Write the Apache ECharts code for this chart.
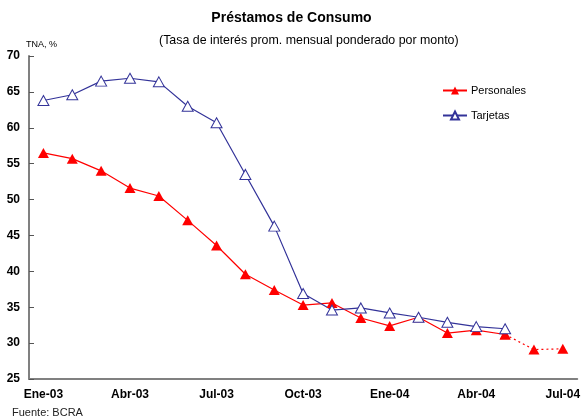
<!DOCTYPE html>
<html>
<head>
<meta charset="utf-8">
<script src="https://cdn.jsdelivr.net/npm/echarts@6/dist/echarts.min.js"></script>
<style>
  html, body { margin: 0; padding: 0; background: #fff; }
  #chart { width: 583px; height: 418px; }
</style>
</head>
<body>
<div id="chart"></div>
<script>
  // meses, Ene-03 .. Jul-04
  const months = ['Ene-03','Feb-03','Mar-03','Abr-03','May-03','Jun-03','Jul-03','Ago-03','Sep-03',
                  'Oct-03','Nov-03','Dic-03','Ene-04','Feb-04','Mar-04','Abr-04','May-04','Jun-04','Jul-04'];
  // TNA %
  const personales = [56.5, 55.7, 54.0, 51.6, 50.5, 47.1, 43.6, 39.6, 37.4, 35.3, 35.6, 33.5, 32.4, 33.6, 31.4, 31.8, 31.2, null, null];
  const personalesEstim = [null, null, null, null, null, null, null, null, null, null, null, null, null, null, null, null, 31.2, 29.1, 29.2];
  const tarjetas = [63.8, 64.6, 66.5, 66.9, 66.4, 63.0, 60.7, 53.5, 46.3, 36.9, 34.6, 34.9, 34.2, 33.6, 32.9, 32.3, 32.0, null, null];

  const font = 'Liberation Sans';
  const chart = echarts.init(document.getElementById('chart'));

  chart.setOption({
    animation: false,
    textStyle: { fontFamily: font },
    title: [
      { text: 'Préstamos de Consumo', left: 'center', top: 6,
        textStyle: { fontFamily: font, fontSize: 14, fontWeight: 'bold', color: '#000' } },
      { text: '(Tasa de interés prom. mensual ponderado por monto)', left: 154, top: 30,
        textStyle: { fontFamily: font, fontSize: 12.4, fontWeight: 'normal', color: '#000' } },
      { text: 'TNA, %', left: 21, top: 35,
        textStyle: { fontFamily: font, fontSize: 9, fontWeight: 'normal', color: '#000' } },
      { text: 'Fuente: BCRA', left: 7, top: 402,
        textStyle: { fontFamily: font, fontSize: 11, fontWeight: 'normal', color: '#222' } }
    ],
    legend: {
      orient: 'vertical',
      left: 437, top: 80,
      itemWidth: 24, itemHeight: 10, itemGap: 14,
      data: ['Personales', 'Tarjetas'],
      textStyle: { fontFamily: font, fontSize: 11, color: '#000', padding: [0, 0, 0, -1] }
    },
    grid: { left: 29, right: 0, top: 56, bottom: 39 },
    xAxis: {
      type: 'category',
      data: months,
      boundaryGap: true,
      axisLine: { lineStyle: { color: '#808080', width: 2 } },
      axisTick: { inside: true, length: 5, interval: 2, lineStyle: { color: '#000' } },
      axisLabel: { interval: 2, margin: 10, fontFamily: font, fontSize: 12, fontWeight: 'bold', color: '#000',
        formatter: (v, i) => (i % 3 === 0 ? v : '') }
    },
    yAxis: {
      type: 'value',
      min: 25, max: 70, interval: 5,
      splitLine: { show: false },
      axisLine: { show: true, lineStyle: { color: '#808080', width: 2 } },
      axisTick: { show: true, inside: true, length: 5, lineStyle: { color: '#555' } },
      axisLabel: { margin: 9, fontFamily: font, fontSize: 12, fontWeight: 'bold', color: '#000' }
    },
    series: [
      {
        name: 'Personales', type: 'line', data: personales,
        symbol: 'triangle', symbolSize: [11, 10],
        lineStyle: { color: '#ff0000', width: 1.2 },
        itemStyle: { color: '#ff0000', borderWidth: 0 }
      },
      {
        name: 'PersonalesEstim', type: 'line', data: personalesEstim,
        symbol: 'triangle', symbolSize: [11, 10],
        lineStyle: { color: '#ff0000', width: 1.2, type: [2, 3] },
        itemStyle: { color: '#ff0000', borderWidth: 0 }
      },
      {
        name: 'Tarjetas', type: 'line', data: tarjetas,
        symbol: 'triangle', symbolSize: [11, 10],
        lineStyle: { color: '#333399', width: 1.2 },
        itemStyle: { color: '#ffffff', borderColor: '#333399', borderWidth: 1 }
      }
    ]
  });
</script>
</body>
</html>
